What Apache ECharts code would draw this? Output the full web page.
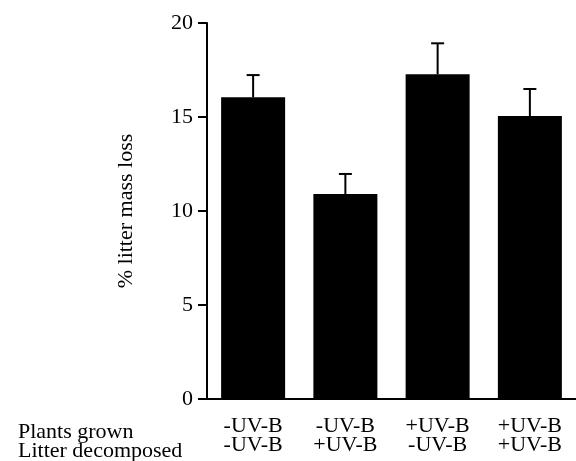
<!DOCTYPE html>
<html>
<head>
<meta charset="utf-8">
<script src="https://cdn.jsdelivr.net/npm/echarts@6/dist/echarts.min.js"></script>
<style>html,body{margin:0;padding:0;background:#fff}#c{width:576px;height:461px}</style>
</head>
<body>
<div id="c"></div>
<script>
var plantsGrown = ['-UV-B', '-UV-B', '+UV-B', '+UV-B'];
var litterDecomposed = ['-UV-B', '+UV-B', '-UV-B', '+UV-B'];
var massLoss = [16.05, 10.9, 17.27, 15.05];
var massLossErr = [1.18, 1.07, 1.65, 1.44];
var yTicks = [0, 5, 10, 15, 20];

var categories = plantsGrown.map(function (p, i) { return p + '\n' + litterDecomposed[i]; });
var font = '"Liberation Serif", "Times New Roman", serif';

var chart = echarts.init(document.getElementById('c'));
chart.setOption({
  backgroundColor: '#fff',
  animation: false,
  grid: { left: 207, top: 23, width: 371, bottom: 62, containLabel: false },
  xAxis: {
    type: 'category',
    data: categories,
    axisLine: { lineStyle: { color: '#000', width: 2 } },
    axisTick: { alignWithLabel: true, length: 9, lineStyle: { color: '#000', width: 2 } },
    axisLabel: { color: '#000', fontFamily: font, fontSize: 22, lineHeight: 19, margin: 18 }
  },
  yAxis: {
    type: 'value',
    min: yTicks[0], max: yTicks[yTicks.length - 1], interval: 5,
    name: '% litter mass loss',
    nameLocation: 'middle',
    nameGap: 70,
    nameTextStyle: { color: '#000', fontFamily: font, fontSize: 22 },
    axisLine: { show: true, lineStyle: { color: '#000', width: 2 } },
    axisTick: { show: true, length: 9, lineStyle: { color: '#000', width: 2 } },
    axisLabel: { color: '#000', fontFamily: font, fontSize: 22, margin: 14 },
    splitLine: { show: false }
  },
  graphic: [{
    type: 'text', left: 18, top: 421,
    style: { text: 'Plants grown\nLitter decomposed', font: '22px ' + font, fill: '#000', lineHeight: 19 }
  }],
  series: [{
    type: 'bar',
    data: massLoss,
    barWidth: 64,
    itemStyle: { color: '#000' },
    z: 2
  }, {
    type: 'custom',
    data: massLoss.map(function (v, i) { return [i, v, v + massLossErr[i]]; }),
    renderItem: function (params, api) {
      var base = api.coord([api.value(0), api.value(1)]);
      var top = api.coord([api.value(0), api.value(2)]);
      var hw = 6.5;
      var st = { stroke: '#000', lineWidth: 2, fill: null };
      return {
        type: 'group',
        children: [
          { type: 'line', shape: { x1: top[0], y1: base[1], x2: top[0], y2: top[1] }, style: st },
          { type: 'line', shape: { x1: top[0] - hw, y1: top[1], x2: top[0] + hw, y2: top[1] }, style: st }
        ]
      };
    },
    encode: { x: 0, y: [1, 2] },
    z: 3
  }]
});
</script>
</body>
</html>
